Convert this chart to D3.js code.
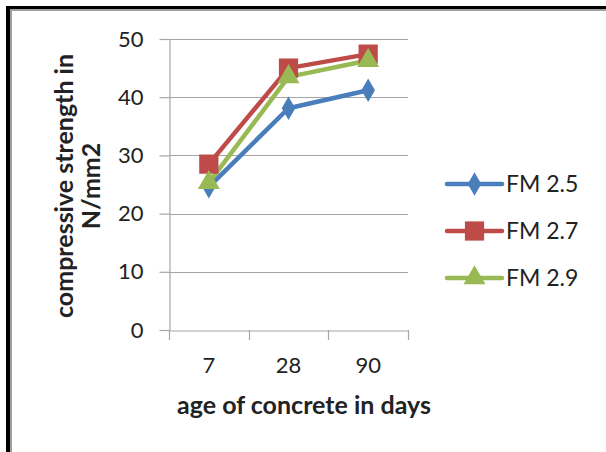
<!DOCTYPE html>
<html>
<head>
<meta charset="utf-8">
<script src="https://cdn.jsdelivr.net/npm/d3@7"></script>
<style>
  html, body { margin: 0; padding: 0; background: #fff; }
  svg { display: block; }
  text { font-family: Lato, "Open Sans", sans-serif; fill: #222; }
</style>
</head>
<body>
<svg id="chart" width="606" height="452"></svg>
<script>
// Compressive strength by concrete age, per fineness modulus
const ages = ["7", "28", "90"];
const fm25 = [24.6, 38.1, 41.2];
const fm27 = [28.5, 45.0, 47.4];
const fm29 = [25.3, 43.5, 46.3];
const seriesNames = ["FM 2.5", "FM 2.7", "FM 2.9"];
const yTicks = [0, 10, 20, 30, 40, 50];

const series = [
  { name: seriesNames[0], values: fm25, color: "#4a7ebb", symbol: d3.symbolDiamond, size: 160 },
  { name: seriesNames[1], values: fm27, color: "#be4b48", symbol: d3.symbolSquare, size: 370 },
  { name: seriesNames[2], values: fm29, color: "#98b954", symbol: d3.symbolTriangle, size: 210 }
];

const svg = d3.select("#chart");

// frame
svg.append("rect").attr("x", 0).attr("y", 0).attr("width", 606).attr("height", 452).attr("fill", "#fff");
svg.append("line").attr("x1", 6).attr("x2", 606).attr("y1", 7.5).attr("y2", 7.5).attr("stroke", "#000").attr("stroke-width", 3);
svg.append("line").attr("x1", 9).attr("x2", 606).attr("y1", 10).attr("y2", 10).attr("stroke", "#a0a0a0").attr("stroke-width", 2);
svg.append("line").attr("x1", 8).attr("x2", 8).attr("y1", 6).attr("y2", 452).attr("stroke", "#000").attr("stroke-width", 4);
svg.append("line").attr("x1", 11).attr("x2", 11).attr("y1", 9).attr("y2", 452).attr("stroke", "#a0a0a0").attr("stroke-width", 2);

const x = d3.scaleBand().domain(ages).range([169, 408]).padding(0);
const y = d3.scaleLinear().domain([0, 50]).range([330, 39]);

// horizontal gridlines
svg.append("g")
  .selectAll("line")
  .data(yTicks.filter(t => t > 0))
  .join("line")
  .attr("x1", 169).attr("x2", 408)
  .attr("y1", d => Math.round(y(d)) + 0.5).attr("y2", d => Math.round(y(d)) + 0.5)
  .attr("stroke", "#a6a6a6").attr("stroke-width", 1.2);

// y axis
const yAxis = svg.append("g")
  .attr("transform", "translate(169.5,0)")
  .call(d3.axisLeft(y).tickValues(yTicks).tickSize(10).tickPadding(16).tickSizeOuter(0));
yAxis.select(".domain").attr("stroke", "#a6a6a6").attr("stroke-width", 1.2);
yAxis.selectAll(".tick line").attr("stroke", "#a6a6a6").attr("stroke-width", 1.2);
yAxis.selectAll(".tick text").attr("font-size", 22).attr("font-family", "Lato, sans-serif").attr("fill", "#222");

// x axis
const xAxis = svg.append("g")
  .attr("transform", `translate(0,${Math.round(y(0)) + 0.5})`)
  .call(d3.axisBottom(x).tickSize(0).tickPadding(27));
xAxis.select(".domain").attr("stroke", "#a6a6a6").attr("stroke-width", 1.2);
xAxis.selectAll(".tick text").attr("font-size", 22).attr("font-family", "Lato, sans-serif").attr("fill", "#222");
// category separators
svg.append("g")
  .selectAll("line")
  .data(ages.map(a => x(a)).concat([x.range()[1]]))
  .join("line")
  .attr("x1", d => Math.round(d) + 0.5).attr("x2", d => Math.round(d) + 0.5)
  .attr("y1", y(0)).attr("y2", y(0) + 10)
  .attr("stroke", "#a6a6a6").attr("stroke-width", 1.2);

// axis titles
svg.append("text")
  .attr("x", 304).attr("y", 414)
  .attr("text-anchor", "middle")
  .attr("font-size", 25).attr("font-weight", "bold")
  .text("age of concrete in days");

const yTitle = svg.append("text")
  .attr("transform", "translate(0,186) rotate(-90)")
  .attr("text-anchor", "middle")
  .attr("font-size", 25).attr("font-weight", "bold");
yTitle.append("tspan").attr("x", 0).attr("y", 73).text("compressive strength in");
yTitle.append("tspan").attr("x", 0).attr("y", 100).text("N/mm2");

// series lines and markers
const cx = (i) => x(ages[i]) + x.bandwidth() / 2;
const line = d3.line().x((d, i) => cx(i)).y(d => y(d));

series.forEach(s => {
  svg.append("path")
    .datum(s.values)
    .attr("d", line)
    .attr("fill", "none")
    .attr("stroke", s.color)
    .attr("stroke-width", 4.5)
    .attr("stroke-linejoin", "round");
});
series.forEach(s => {
  svg.append("g")
    .selectAll("path")
    .data(s.values)
    .join("path")
    .attr("transform", (d, i) => `translate(${cx(i)},${y(d)})`)
    .attr("d", d3.symbol().type(s.symbol).size(s.size))
    .attr("fill", s.color);
});

// legend
const legend = svg.append("g");
series.forEach((s, i) => {
  const ly = 184 + i * 47;
  legend.append("line")
    .attr("x1", 447).attr("x2", 502).attr("y1", ly).attr("y2", ly)
    .attr("stroke", s.color).attr("stroke-width", 4.5).attr("stroke-linecap", "round");
  legend.append("path")
    .attr("transform", `translate(474.5,${ly})`)
    .attr("d", d3.symbol().type(s.symbol).size(s.size))
    .attr("fill", s.color);
  legend.append("text")
    .attr("x", 506).attr("y", ly + 8)
    .attr("font-size", 23)
    .text(s.name);
});
</script>
</body>
</html>
